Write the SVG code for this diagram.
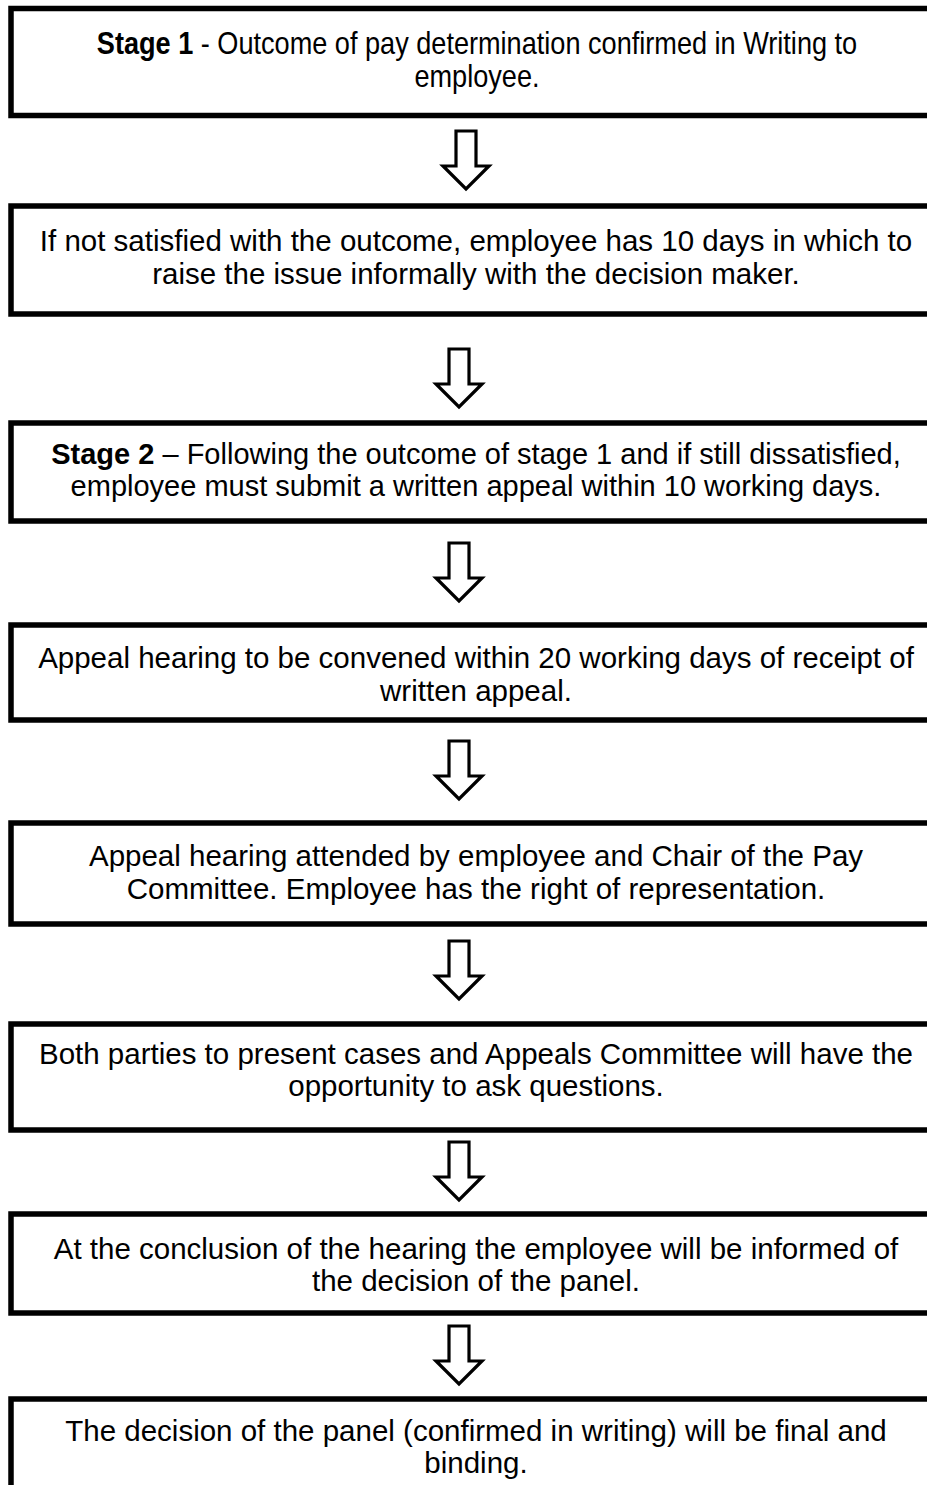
<svg xmlns="http://www.w3.org/2000/svg" width="927" height="1485" viewBox="0 0 927 1485">
<style>
.box{fill:#fff;stroke:#000;stroke-width:5.5}
.t{font-family:"Liberation Sans",Arial,sans-serif;font-size:29.5px;fill:#000;text-anchor:middle}
.n{font-family:"Liberation Sans",Arial,sans-serif;font-size:31px;fill:#000;text-anchor:middle}
.b{font-weight:bold}
.arr{fill:#fff;stroke:#000;stroke-width:3.2;stroke-linejoin:miter}
</style>
<defs>
<path id="ar" d="M-10,0 H10 V35 H23 L0,58 L-23,35 H-10 Z"/>
</defs>
<rect width="927" height="1485" fill="#fff"/>
<g id="n1"><rect class="box" x="11" y="8.5" width="930" height="107"/>
<g transform="translate(477,0) scale(0.875,1)">
<text class="n" x="0" y="54"><tspan class="b">Stage 1</tspan> - Outcome of pay determination confirmed in Writing to</text>
<text class="n" x="0" y="87">employee.</text></g></g>
<g id="n2"><rect class="box" x="11" y="206" width="930" height="108"/>
<text class="t" x="476" y="250.5">If not satisfied with the outcome, employee has 10 days in which to</text>
<text class="t" x="476" y="283.5">raise the issue informally with the decision maker.</text></g>
<g id="n3"><rect class="box" x="11" y="423" width="930" height="98"/>
<text class="t" x="476" y="463.5" style="font-size:29px"><tspan class="b">Stage 2</tspan> – Following the outcome of stage 1 and if still dissatisfied,</text>
<text class="t" x="476" y="495.5" style="font-size:29px">employee must submit a written appeal within 10 working days.</text></g>
<g id="n4"><rect class="box" x="11" y="625" width="930" height="95"/>
<text class="t" x="476" y="667.5">Appeal hearing to be convened within 20 working days of receipt of</text>
<text class="t" x="476" y="700.5">written appeal.</text></g>
<g id="n5"><rect class="box" x="11" y="823" width="930" height="101"/>
<text class="t" x="476" y="865.5">Appeal hearing attended by employee and Chair of the Pay</text>
<text class="t" x="476" y="898.5">Committee. Employee has the right of representation.</text></g>
<g id="n6"><rect class="box" x="11" y="1024" width="930" height="106"/>
<text class="t" x="476" y="1063.5">Both parties to present cases and Appeals Committee will have the</text>
<text class="t" x="476" y="1095.5">opportunity to ask questions.</text></g>
<g id="n7"><rect class="box" x="11" y="1214" width="930" height="99"/>
<text class="t" x="476" y="1258.5">At the conclusion of the hearing the employee will be informed of</text>
<text class="t" x="476" y="1290.5">the decision of the panel.</text></g>
<g id="n8"><rect class="box" x="11" y="1399" width="930" height="100"/>
<text class="t" x="476" y="1440.5">The decision of the panel (confirmed in writing) will be final and</text>
<text class="t" x="476" y="1472.5">binding.</text></g>
<g id="connectors">
<use href="#ar" class="arr" x="466" y="131"/>
<use href="#ar" class="arr" x="459" y="349"/>
<use href="#ar" class="arr" x="459" y="543"/>
<use href="#ar" class="arr" x="459" y="741"/>
<use href="#ar" class="arr" x="459" y="941"/>
<use href="#ar" class="arr" x="459" y="1142"/>
<use href="#ar" class="arr" x="459" y="1326"/>
</g>
</svg>
